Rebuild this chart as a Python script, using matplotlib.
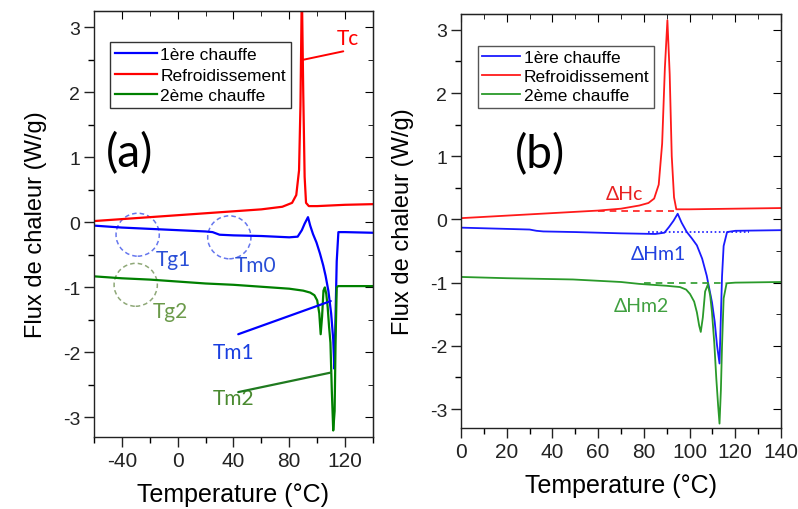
import matplotlib
matplotlib.use("Agg")
import matplotlib.pyplot as plt
from matplotlib.patches import Ellipse
from matplotlib.ticker import MultipleLocator

plt.rcParams['font.family'] = ['Liberation Sans', 'DejaVu Sans']
plt.rcParams['axes.unicode_minus'] = False

BLUE = '#0000ff'
RED = '#ff0000'
GREEN = '#008000'

# ---- panel (a) : full range -60..140 C
a_T_red = [-60, -40, -20, 0, 20, 40, 60, 75, 82, 85, 87, 88, 89, 90, 91, 92, 94, 100, 120, 140]
a_red = [0.02, 0.05, 0.08, 0.11, 0.14, 0.17, 0.20, 0.24, 0.30, 0.42, 0.8, 1.8, 3.6, 2.0, 0.7, 0.3, 0.25, 0.25, 0.27, 0.28]

a_T_blue = [-60, -40, -20, 0, 20, 25, 30, 40, 60, 80, 86, 89, 91, 93.4, 95, 97, 99.5, 102, 104.3,
            106, 108, 110, 111.5, 112.3, 113, 114, 115.2, 120, 140]
a_blue = [-0.05, -0.08, -0.10, -0.12, -0.14, -0.15, -0.19, -0.20, -0.21, -0.23, -0.22, -0.12, -0.02, 0.08,
          -0.05, -0.18, -0.31, -0.48, -0.66, -0.82, -1.05, -1.4, -1.8, -2.25, -1.6, -0.6, -0.15, -0.15, -0.16]

a_T_green = [-60, -40, -20, 0, 20, 40, 60, 80, 90, 95, 98, 100, 101.5, 102.5, 103.5, 104.5, 105.5,
             106.5, 107.5, 108.5, 109.5, 110.5, 111.5, 112.5, 113.2, 114, 115, 116, 120, 140]
a_green = [-0.83, -0.86, -0.88, -0.91, -0.94, -0.96, -0.99, -1.02, -1.05, -1.08, -1.12, -1.2, -1.4, -1.72,
           -1.45, -1.05, -1.0, -1.1, -1.3, -1.6, -1.85, -2.6, -3.2, -2.9, -1.8, -1.0, -0.98, -0.98, -0.98, -0.98]

# ---- panel (b) : 0..140 C
b_T_red = [0, 20, 40, 60, 70, 78, 82, 84.5, 86.5, 88, 89.2, 90.3, 91.3, 92.2, 93.2, 94.2, 100, 120, 140]
b_red = [0.02, 0.06, 0.10, 0.14, 0.17, 0.22, 0.26, 0.33, 0.55, 1.2, 2.4, 3.15, 2.3, 1.0, 0.35, 0.16, 0.16, 0.17, 0.18]

b_T_blue = [0, 10, 20, 30, 33, 36, 50, 70, 85, 89, 91, 93, 94.8, 96.5, 98.8, 101, 103.2, 105.5, 107.5,
            109.8, 111, 112, 113.1, 114.2, 114.9, 116.4, 120, 140]
b_blue = [-0.13, -0.14, -0.15, -0.16, -0.18, -0.19, -0.20, -0.22, -0.23, -0.21, -0.12, -0.02, 0.09, -0.05,
          -0.20, -0.30, -0.41, -0.62, -0.89, -1.31, -1.62, -1.99, -2.28, -0.90, -0.42, -0.20, -0.18, -0.17]

b_T_green = [0, 20, 49, 70, 78, 90, 95.8, 98.5, 100.2, 102, 103.2, 104.2, 104.9, 105.8, 106.8, 108, 109,
             109.8, 110.8, 111.7, 112.5, 113.1, 113.7, 114.2, 114.9, 116.2, 120, 140]
b_green = [-0.91, -0.93, -0.95, -0.99, -1.02, -1.05, -1.07, -1.11, -1.18, -1.3, -1.47, -1.68, -1.78, -1.55,
           -1.14, -1.03, -1.2, -1.47, -1.95, -2.52, -2.95, -3.23, -2.7, -2.0, -1.25, -1.01, -1.0, -0.99]

# integration baselines (panel b)
b_base_red = ([60, 93], [0.13, 0.13])
b_base_blue = ([82, 126], [-0.20, -0.20])
b_base_green = ([80, 116], [-1.00, -1.00])

labels = ['1ère chauffe', 'Refroidissement', '2ème chauffe']

ann_font = ['Lato', 'DejaVu Sans']

fig = plt.figure(figsize=(7.98, 5.1), dpi=100)
ax1 = fig.add_axes([0.1178, 0.1412, 0.3496, 0.8353])
ax2 = fig.add_axes([0.5777, 0.1588, 0.4010, 0.8118])


def style_axes(ax, xmaj, xmin):
    ax.xaxis.set_major_locator(MultipleLocator(xmaj))
    ax.xaxis.set_minor_locator(MultipleLocator(xmin))
    ax.yaxis.set_major_locator(MultipleLocator(1))
    ax.yaxis.set_minor_locator(MultipleLocator(0.5))
    ax.tick_params(which='major', direction='out', length=7, width=1, pad=3, colors='#222222')
    ax.tick_params(which='minor', direction='out', length=4.5, width=1)
    ax.tick_params(axis='y', labelsize=14)
    ax.tick_params(axis='x', labelsize=15)
    for s in ax.spines.values():
        s.set_linewidth(1.0)
        s.set_color('#222222')
    top = ax.secondary_xaxis('top')
    top.xaxis.set_major_locator(MultipleLocator(xmaj))
    top.xaxis.set_minor_locator(MultipleLocator(xmin))
    top.tick_params(which='both', direction='in', labeltop=False)
    top.tick_params(which='major', length=6)
    top.tick_params(which='minor', length=3.5)
    right = ax.secondary_yaxis('right')
    right.yaxis.set_major_locator(MultipleLocator(1))
    right.yaxis.set_minor_locator(MultipleLocator(0.5))
    right.tick_params(which='both', direction='in', labelright=False)
    right.tick_params(which='major', length=6)
    right.tick_params(which='minor', length=3.5)
    ax.set_xlabel('Temperature (°C)', fontsize=18, labelpad=9)
    ax.set_ylabel('Flux de chaleur (W/g)', fontsize=17, labelpad=11)


# ---------------- panel (a)
ax1.plot(a_T_blue, a_blue, color=BLUE, lw=1.6, label=labels[0])
ax1.plot(a_T_red, a_red, color=RED, lw=1.6, label=labels[1])
ax1.plot(a_T_green, a_green, color=GREEN, lw=1.6, label=labels[2])
ax1.set_xlim(-60, 140)
ax1.set_ylim(-3.3, 3.25)
style_axes(ax1, 40, 20)
leg = ax1.legend(loc='upper left', bbox_to_anchor=(0.057, 0.927), fontsize=12.5, frameon=True,
                 fancybox=False, edgecolor='#333333', framealpha=1, handlelength=2.4,
                 handletextpad=0.2, labelspacing=0.3, borderpad=0.3, borderaxespad=0)
leg.get_frame().set_linewidth(1.0)

# dashed circles marking the transitions
circles = [(-28.7, -0.19, '#6677ee'), (37, -0.23, '#6677ee'), (-30.1, -0.96, '#8fa878')]
for cx, cy, col in circles:
    ax1.add_patch(Ellipse((cx, cy), 31, 0.66, fill=False, ls=(0, (3, 2)), lw=1.1, ec=col))

ax1.text(-3, -0.57, 'Tg1', color='#2a4fd6', fontsize=15, family=ann_font, ha='center', va='center')
ax1.text(56, -0.65, 'Tm0', color='#2a4fd6', fontsize=15, family=ann_font, ha='center', va='center')
ax1.text(-5.5, -1.37, 'Tg2', color='#6b9a4a', fontsize=15, family=ann_font, ha='center', va='center')
ax1.text(40, -1.99, 'Tm1', color='#1a3fe0', fontsize=15, family=ann_font, ha='center', va='center')
ax1.text(40, -2.70, 'Tm2', color='#4a8a30', fontsize=15, family=ann_font, ha='center', va='center')
ax1.text(122, 2.84, 'Tc', color=RED, fontsize=15, family=ann_font, ha='center', va='center')
ax1.annotate('', xy=(109.7, -1.21), xytext=(43.4, -1.72),
             arrowprops=dict(arrowstyle='-', color=BLUE, lw=1.6, shrinkA=0, shrinkB=0))
ax1.annotate('', xy=(109.7, -2.31), xytext=(43.4, -2.61),
             arrowprops=dict(arrowstyle='-', color='#1f7a1f', lw=1.6, shrinkA=0, shrinkB=0))
ax1.annotate('', xy=(90.0, 2.50), xytext=(118.7, 2.63),
             arrowprops=dict(arrowstyle='-', color=RED, lw=1.4, shrinkA=0, shrinkB=0))
ax1.text(-34.5, 1.07, '(a)', fontsize=33, family=ann_font, ha='center', va='center')

# ---------------- panel (b)
ax2.plot(b_T_blue, b_blue, color='#1a1aff', lw=1.3, label=labels[0])
ax2.plot(b_T_red, b_red, color='#ff1a1a', lw=1.3, label=labels[1])
ax2.plot(b_T_green, b_green, color='#2a9a2a', lw=1.3, label=labels[2])
ax2.plot(*b_base_red, color='#ff1a1a', lw=1.2, ls=(0, (4, 3)))
ax2.plot(*b_base_blue, color='#1a1aff', lw=1.2, ls=(0, (1, 1.5)))
ax2.plot(*b_base_green, color='#2a9a2a', lw=1.2, ls=(0, (4, 3)))
ax2.set_xlim(0, 140)
ax2.set_ylim(-3.3, 3.25)
style_axes(ax2, 20, 10)
leg2 = ax2.legend(loc='upper left', bbox_to_anchor=(0.053, 0.923), fontsize=12.5, frameon=True,
                  fancybox=False, edgecolor='#555555', framealpha=1, handlelength=2.2,
                  handletextpad=0.2, labelspacing=0.22, borderpad=0.25, borderaxespad=0)
leg2.get_frame().set_linewidth(1.0)

ax2.text(71.5, 0.41, 'ΔHc', color='#e82020', fontsize=14, family=ann_font, ha='center', va='center')
ax2.text(86.3, -0.54, 'ΔHm1', color='#2040e0', fontsize=14, family=ann_font, ha='center', va='center')
ax2.text(79, -1.36, 'ΔHm2', color='#40a040', fontsize=14, family=ann_font, ha='center', va='center')
ax2.text(34.6, 1.04, '(b)', fontsize=33, family=ann_font, ha='center', va='center')

fig.savefig('out.png', dpi=100)
